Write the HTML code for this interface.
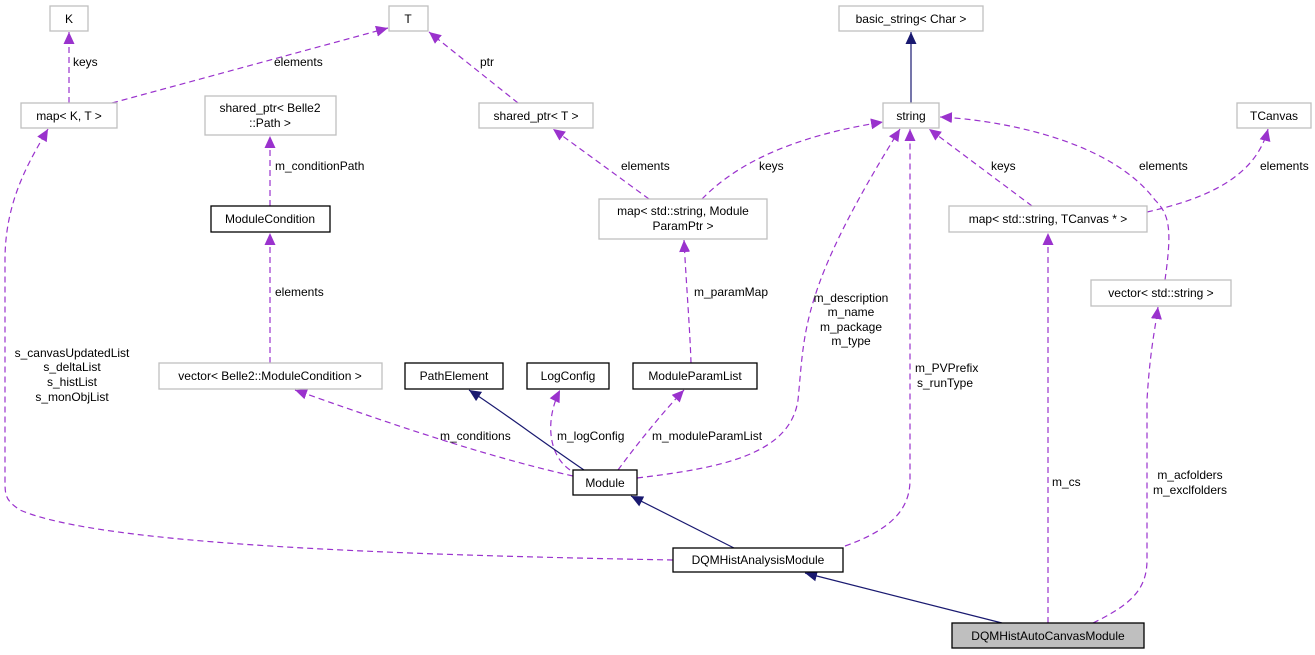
<!DOCTYPE html>
<html><head><meta charset="utf-8"><style>
html,body{margin:0;padding:0;background:#fff;}
svg{display:block;font-family:"Liberation Sans",Arial,sans-serif;font-size:12px;}
</style></head><body>
<svg width="1315" height="655" viewBox="0 0 1315 655" xmlns="http://www.w3.org/2000/svg">
<defs>
<marker id="p" markerWidth="13" markerHeight="11" refX="12" refY="5.5" orient="auto" markerUnits="userSpaceOnUse"><path d="M0,0 L12,5.5 L0,11 z" fill="#9a32cd"/></marker>
<marker id="n" markerWidth="13" markerHeight="11" refX="12" refY="5.5" orient="auto" markerUnits="userSpaceOnUse"><path d="M0,0 L12,5.5 L0,11 z" fill="#191970"/></marker>
</defs>
<g fill="none" stroke="#9a32cd" stroke-width="1.2" stroke-dasharray="6,4" marker-end="url(#p)">
<path d="M69,103 L69,32"/>
<path d="M112,103 L388,28"/>
<path d="M518,103 L429,32"/>
<path d="M270,206 L270,136"/>
<path d="M270,363 L270,233"/>
<path d="M649,199 L553,129"/>
<path d="M702,199 C740,160 800,135 883,122"/>
<path d="M637,478 C720,468 790,455 798,400 C805,330 800,290 900,129"/>
<path d="M845,546 C890,530 910,510 910,480 L910,129"/>
<path d="M1032,206 L929,129"/>
<path d="M1165,280 C1172,230 1170,215 1155,200 C1110,140 1000,120 940,117"/>
<path d="M1147,212 C1200,200 1255,180 1268,129"/>
<path d="M1048,623 L1048,233"/>
<path d="M1093,623 C1130,605 1147,590 1147,560 L1147,400 C1150,350 1155,330 1158,307"/>
<path d="M573,476 C480,455 380,420 295,390"/>
<path d="M570,470 C548,455 545,420 560,390"/>
<path d="M618,470 C640,440 665,410 684,390"/>
<path d="M691,363 C690,330 686,280 684,240"/>
<path d="M673,560 C400,555 100,545 20,510 C5,500 5,495 5,480 L5,260 C5,200 30,160 48,129"/>
</g>
<g fill="none" stroke="#191970" stroke-width="1.2" marker-end="url(#n)">
<path d="M911,103 L911,32"/>
<path d="M584,470 C540,440 500,410 469,390"/>
<path d="M734,548 L631,496"/>
<path d="M1002,623 L805,573"/>
</g>
<g stroke-width="1.3" fill="#fff">
<rect x="50" y="6" width="38" height="25" stroke="#bfbfbf"/>
<rect x="389" y="6" width="39" height="25" stroke="#bfbfbf"/>
<rect x="21" y="103" width="96" height="25" stroke="#bfbfbf"/>
<rect x="205" y="96" width="131" height="39" stroke="#bfbfbf"/>
<rect x="211" y="206" width="119" height="26" stroke="#000"/>
<rect x="479" y="103" width="114" height="25" stroke="#bfbfbf"/>
<rect x="599" y="199" width="168" height="40" stroke="#bfbfbf"/>
<rect x="839" y="6" width="144" height="25" stroke="#bfbfbf"/>
<rect x="883" y="103" width="56" height="25" stroke="#bfbfbf"/>
<rect x="1237" y="103" width="74" height="25" stroke="#bfbfbf"/>
<rect x="949" y="206" width="198" height="26" stroke="#bfbfbf"/>
<rect x="1091" y="280" width="140" height="26" stroke="#bfbfbf"/>
<rect x="159" y="363" width="223" height="26" stroke="#bfbfbf"/>
<rect x="405" y="363" width="98" height="26" stroke="#000"/>
<rect x="527" y="363" width="82" height="26" stroke="#000"/>
<rect x="633" y="363" width="124" height="26" stroke="#000"/>
<rect x="573" y="470" width="64" height="25" stroke="#000"/>
<rect x="673" y="548" width="170" height="24" stroke="#000"/>
<rect x="952" y="623" width="192" height="25" stroke="#000" fill="#bfbfbf"/>
</g>
<g fill="#000" text-anchor="middle">
<text x="69" y="23">K</text>
<text x="408" y="23">T</text>
<text x="69" y="120">map&lt; K, T &gt;</text>
<text x="270" y="112">shared_ptr&lt; Belle2</text>
<text x="270" y="127">::Path &gt;</text>
<text x="270" y="223">ModuleCondition</text>
<text x="536" y="120">shared_ptr&lt; T &gt;</text>
<text x="683" y="215">map&lt; std::string, Module</text>
<text x="683" y="230">ParamPtr &gt;</text>
<text x="911" y="23">basic_string&lt; Char &gt;</text>
<text x="911" y="120">string</text>
<text x="1274" y="120">TCanvas</text>
<text x="1048" y="223">map&lt; std::string, TCanvas * &gt;</text>
<text x="1161" y="297">vector&lt; std::string &gt;</text>
<text x="270" y="380">vector&lt; Belle2::ModuleCondition &gt;</text>
<text x="454" y="380">PathElement</text>
<text x="568" y="380">LogConfig</text>
<text x="695" y="380">ModuleParamList</text>
<text x="605" y="487">Module</text>
<text x="758" y="564">DQMHistAnalysisModule</text>
<text x="1048" y="640">DQMHistAutoCanvasModule</text>
<text x="851" y="302">m_description</text>
<text x="851" y="316">m_name</text>
<text x="851" y="331">m_package</text>
<text x="851" y="345">m_type</text>
<text x="72" y="357">s_canvasUpdatedList</text>
<text x="72" y="371">s_deltaList</text>
<text x="72" y="386">s_histList</text>
<text x="72" y="401">s_monObjList</text>
<text x="1190" y="479">m_acfolders</text>
<text x="1190" y="494">m_exclfolders</text>
</g>
<g fill="#000">
<text x="73" y="66">keys</text>
<text x="274" y="66">elements</text>
<text x="480" y="66">ptr</text>
<text x="275" y="170">m_conditionPath</text>
<text x="275" y="296">elements</text>
<text x="621" y="170">elements</text>
<text x="759" y="170">keys</text>
<text x="694" y="296">m_paramMap</text>
<text x="991" y="170">keys</text>
<text x="1139" y="170">elements</text>
<text x="1260" y="170">elements</text>
<text x="440" y="440">m_conditions</text>
<text x="557" y="440">m_logConfig</text>
<text x="652" y="440">m_moduleParamList</text>
<text x="915" y="372">m_PVPrefix</text>
<text x="917" y="387">s_runType</text>
<text x="1052" y="486">m_cs</text>
</g>
</svg>
</body></html>
